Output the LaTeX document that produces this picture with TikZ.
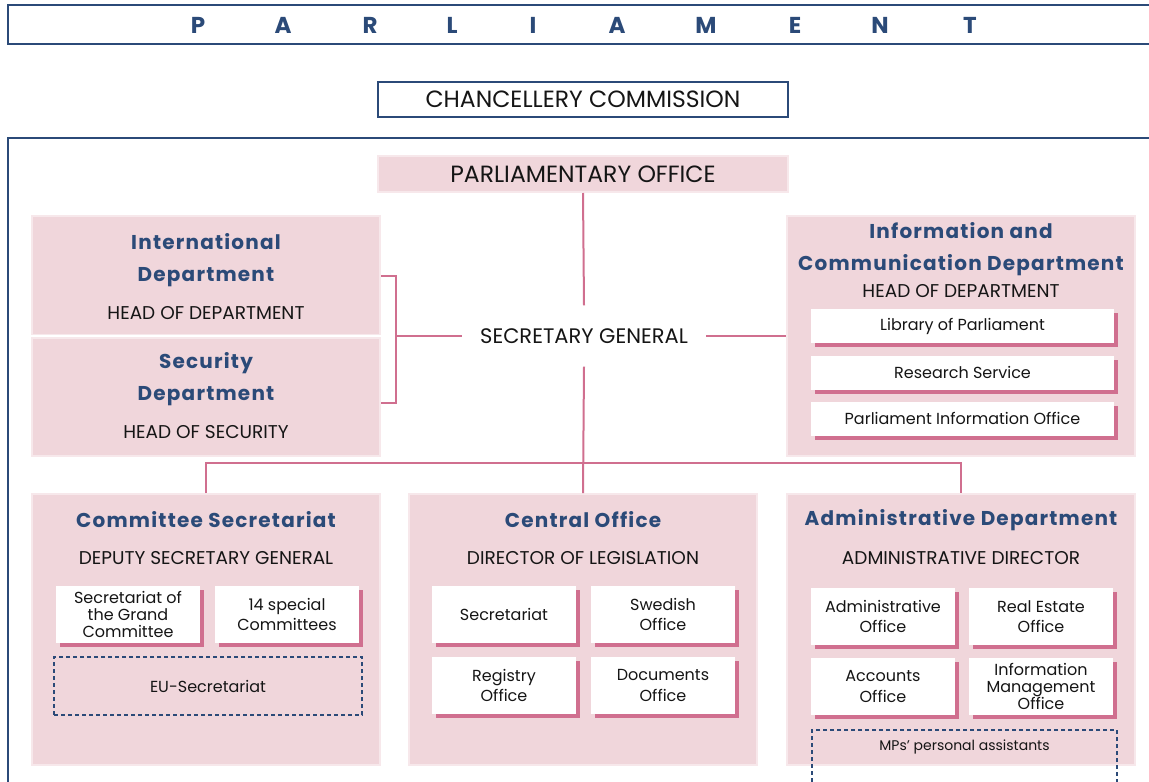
\documentclass[tikz,border=0pt]{standalone}
\usepackage{fontspec}
\setmainfont{Poppins}
\newfontfamily\headfont[LetterSpace=6]{Poppins}
\usetikzlibrary{shadows,positioning}
\definecolor{navy}{HTML}{2B4A78}
\definecolor{rose}{HTML}{D06F8F}
\definecolor{blush}{HTML}{F0D6DB}
\definecolor{blushedge}{HTML}{F7E8EB}
\definecolor{ink}{HTML}{151515}
\newcommand\toptext{\fontsize{23.5}{26}\selectfont}
\newcommand\bigtext{\fontsize{21}{24}\selectfont}
\newcommand\midtext{\fontsize{18.5}{22}\selectfont}
\newcommand\smalltext{\fontsize{16}{20.5}\selectfont}
\newcommand\headtext{\headfont\bfseries\fontsize{20}{32}\selectfont}

\begin{document}
\begin{tikzpicture}[x=1pt,y=-1pt,
  dept/.style={fill=blush,draw=blushedge,line width=2pt,minimum width=348,minimum height=#1,inner sep=0pt},
  unit/.style={fill=white,minimum width=144,minimum height=57,inner sep=0pt,align=center,text=ink,font=\smalltext,
    general shadow={fill=rose,shadow xshift=4pt,shadow yshift=-4pt}},
  wideunit/.style={unit,minimum width=303,minimum height=34},
  dashbox/.style={draw=navy,line width=1.3pt,dash pattern=on 4pt off 3pt,text=ink,font=\smalltext,inner sep=0pt},
  title/.style={text=navy,font=\headtext,align=center,inner sep=0pt},
  boss/.style={text=ink,font=\midtext,inner sep=0pt},
  link/.style={draw=rose,line width=2pt}]
\clip (0,0) rectangle (1149,782);
\draw[navy,line width=1.5pt] (1160,5) -- (8,5) -- (8,44) -- (1160,44);
\foreach \ch/\px in {P/198,A/283,R/370,L/452,I/533,A/617,M/706,E/795,N/880,T/970}
  \node[text=navy,font=\bfseries\fontsize{23}{23}\selectfont] (hdr\px) at (\px,25) {\ch};
\node[draw=navy,line width=1.3pt,minimum width=410,minimum height=35,inner sep=0pt,text=ink,font=\toptext] (cc) at (583,99.5) {CHANCELLERY COMMISSION};
\draw[navy,line width=1.5pt] (1160,138) -- (8,138) -- (8,790);

\node[dept=36,minimum width=410,text=ink,font=\toptext] (po) at (583,174) {PARLIAMENTARY OFFICE};
\node[minimum width=244,minimum height=61,inner sep=0pt,text=ink,font=\bigtext] (sg) at (584,336) {SECRETARY GENERAL};

\node[dept=119] (id) at (206,275.5) {};
\node[title] (idt) at (206,260) {International\\Department};
\node[boss] (idh) at (206,313) {HEAD OF DEPARTMENT};
\node[dept=118] (sd) at (206,397) {};
\node[title] (sdt) at (206,379) {Security\\Department};
\node[boss] (sdh) at (206,432) {HEAD OF SECURITY};
\draw[white,line width=2pt] (id.south west) -- (id.south east);

\node[dept=240] (icd) at (961,336) {};
\node[title] (icdt) at (961,249) {Information and\\Communication Department};
\node[boss] (icdh) at (961,291) {HEAD OF DEPARTMENT};
\node[wideunit] (lib) at (962.5,326) {Library of Parliament};
\node[wideunit] (res) at (962.5,372.5) {Research Service};
\node[wideunit] (pio) at (962.5,418.5) {Parliament Information Office};

\node[dept=271] (cs) at (206,629.5) {};
\node[title] (cst) at (206,520) {Committee Secretariat};
\node[boss] (csh) at (206,558) {DEPUTY SECRETARY GENERAL};
\node[unit] (gc) at (128,614.5) {Secretariat of\\[-3.5pt]the Grand\\[-3.5pt]Committee};
\node[unit] (sc) at (287,614.5) {14 special\\Committees};
\node[dashbox,minimum width=308,minimum height=58] (eu) at (208,686) {EU-Secretariat};

\node[dept=271] (co) at (583,629.5) {};
\node[title] (cot) at (583,520) {Central Office};
\node[boss] (coh) at (583,558) {DIRECTOR OF LEGISLATION};
\node[unit] (sec) at (504,614.5) {Secretariat};
\node[unit] (swe) at (663,614.5) {Swedish\\Office};
\node[unit] (reg) at (504,685.5) {Registry\\Office};
\node[unit] (doc) at (663,685.5) {Documents\\Office};

\node[dept=271] (ad) at (961,629.5) {};
\node[title] (adt) at (961,520) {Administrative Department};
\node[boss] (adh) at (961,558) {ADMINISTRATIVE DIRECTOR};
\node[unit] (ao) at (883,616.5) {Administrative\\Office};
\node[unit] (reo) at (1041,616.5) {Real Estate\\Office};
\node[unit] (acc) at (883,686.5) {Accounts\\Office};
\node[unit] (imo) at (1041,686.5) {Information\\[-3.5pt]Management\\[-3.5pt]Office};
\node[dashbox,minimum width=305,minimum height=70] (mps) at (964.5,765) {};
\node[text=ink,font=\fontsize{14}{14}\selectfont] (mpst) at (964.5,747) {MPs’ personal assistants};

\coordinate (brk) at (396,336);
\coordinate (bus) at (583,463);
\draw[link] (po.south) -- (sg.north);
\draw[link] (sg.east) -- (icd.west);
\draw[link] (sg.west) -- (brk);
\draw[link] (id.east) -| (brk) |- ([yshift=-6pt]sd.east);
\draw[link] (sg.south) -- (co.north);
\draw[link] (cs.north) |- (bus) -| (ad.north);
\end{tikzpicture}
\end{document}
